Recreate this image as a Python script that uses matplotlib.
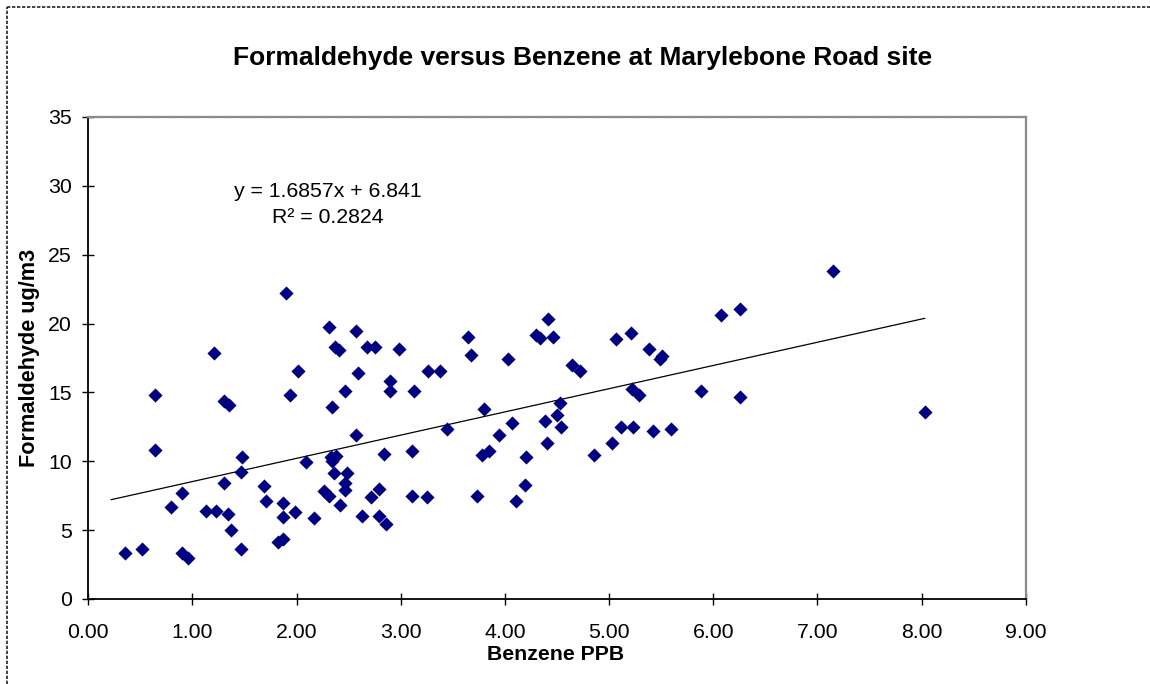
import numpy as np
import matplotlib
matplotlib.use("Agg")
from matplotlib import pyplot as plt
from matplotlib.lines import Line2D

plt.rcParams["font.family"] = ["Liberation Sans", "DejaVu Sans"]

# benzene (ppb) vs formaldehyde (ug/m3)
benzene = [
    0.35, 0.52, 0.64, 0.64, 0.79, 0.90, 0.90, 0.96, 1.13, 1.23,
    1.21, 1.30, 1.35, 1.30, 1.34, 1.37, 1.47, 1.47, 1.48, 1.69,
    1.71, 1.82, 1.87, 1.87, 1.87, 1.94, 1.98, 2.01, 2.09, 1.90,
    2.31, 2.57, 2.37, 2.41, 2.68, 2.75, 2.98, 3.65, 3.67, 4.03,
    2.59, 3.26, 3.38, 2.46, 2.90, 2.90, 3.13, 2.34, 3.80, 2.57,
    3.44, 4.07, 3.94, 2.33, 2.38, 2.34, 2.84, 3.11, 3.78, 3.85,
    4.20, 2.36, 2.48, 2.46, 2.46, 2.26, 2.31, 2.79, 2.71, 3.11,
    3.25, 3.73, 4.19, 4.11, 2.42, 2.17, 2.63, 2.79, 2.86,
    6.26, 6.07, 4.41, 5.21, 5.07, 4.30, 4.34, 4.46, 5.38, 5.51,
    5.49, 4.64, 4.72, 5.22, 5.29, 5.88, 6.26, 4.53, 4.50, 4.38,
    4.54, 5.11, 5.23, 5.42, 5.59, 4.40, 5.03, 4.86,
    7.15, 8.03,
]
formaldehyde = [
    3.32, 3.61, 14.78, 10.85, 6.66, 7.68, 3.32, 3.00, 6.37, 6.37,
    17.86, 14.39, 14.05, 8.41, 6.20, 5.04, 3.61, 9.25, 10.30, 8.23,
    7.10, 4.14, 4.38, 6.98, 5.94, 14.78, 6.32, 16.52, 9.96, 22.20,
    19.74, 19.45, 18.30, 18.05, 18.27, 18.27, 18.12, 19.02, 17.68, 17.39,
    16.40, 16.52, 16.52, 15.09, 15.84, 15.07, 15.07, 13.93, 13.79, 11.92,
    12.35, 12.77, 11.90, 10.34, 10.41, 10.05, 10.56, 10.71, 10.44, 10.71,
    10.30, 9.13, 9.16, 8.45, 7.92, 7.85, 7.49, 7.99, 7.39, 7.51,
    7.37, 7.51, 8.26, 7.10, 6.81, 5.91, 6.06, 6.06, 5.47,
    21.08, 20.62, 20.33, 19.31, 18.87, 19.19, 18.97, 18.99, 18.15, 17.66,
    17.42, 17.00, 16.55, 15.26, 14.83, 15.07, 14.66, 14.24, 13.37, 12.89,
    12.48, 12.48, 12.48, 12.19, 12.33, 11.34, 11.34, 10.44,
    23.79, 13.61,
]

slope = 1.6857
intercept = 6.841
r_squared = 0.2824
trend_x = np.array([0.22, 8.03])

x_ticks = np.arange(0, 10, 1)
y_ticks = np.arange(0, 40, 5)

fig = plt.figure(figsize=(11.5, 6.84), dpi=100)
ax = fig.add_axes([0.0768, 0.1243, 0.8151, 0.7047])

ax.scatter(benzene, formaldehyde, marker="D", s=52, color="#000080",
           linewidths=0, zorder=3)
ax.plot(trend_x, slope * trend_x + intercept, color="black", lw=0.9, zorder=2)

ax.set_xlim(0, 9)
ax.set_ylim(0, 35)
ax.set_xticks(x_ticks)
ax.set_xticklabels(["{:.2f}".format(v) for v in x_ticks])
ax.set_yticks(y_ticks)

ax.tick_params(direction="inout", length=9, width=1, labelsize=15.3,
               colors="black")
ax.tick_params(axis="x", pad=13)
ax.tick_params(axis="y", pad=7.5)

for side in ["left", "bottom"]:
    ax.spines[side].set_color("black")
    ax.spines[side].set_linewidth(1.3)
for side in ["top", "right"]:
    ax.spines[side].set_color("#8c8c8c")
    ax.spines[side].set_linewidth(1.6)
    ax.spines[side].set_linestyle((0, (1.5, 0.8)))

eq = "y = {:.4f}x + {:.3f}".format(slope, intercept)
ax.text(2.30, 29.58, eq, ha="center", va="center", fontsize=15.3)
ax.text(2.30, 27.69, "R\u00b2 = {:.4f}".format(r_squared), ha="center",
        va="center", fontsize=15.3)

fig.text(0.5065, 0.915, "Formaldehyde versus Benzene at Marylebone Road site",
         ha="center", va="center", fontsize=19, fontweight="bold")
fig.text(0.483, 0.0424, "Benzene PPB", ha="center", va="center",
         fontsize=15.3, fontweight="bold")
fig.text(0.026, 0.477, "Formaldehyde ug/m3", ha="center", va="center",
         rotation=90, fontsize=15.6, fontweight="bold")

# chart area border (runs off the right and bottom edges)
bx = 7 / 1150
by = 1 - 7 / 684
fig.add_artist(Line2D([bx, bx], [0, by], color="#222222", lw=1.2,
                      linestyle=(0, (2, 1))))
fig.add_artist(Line2D([bx, 1], [by, by], color="#222222", lw=1.2,
                      linestyle=(0, (2, 1))))

plt.savefig("out.png", dpi=100, facecolor="white")
